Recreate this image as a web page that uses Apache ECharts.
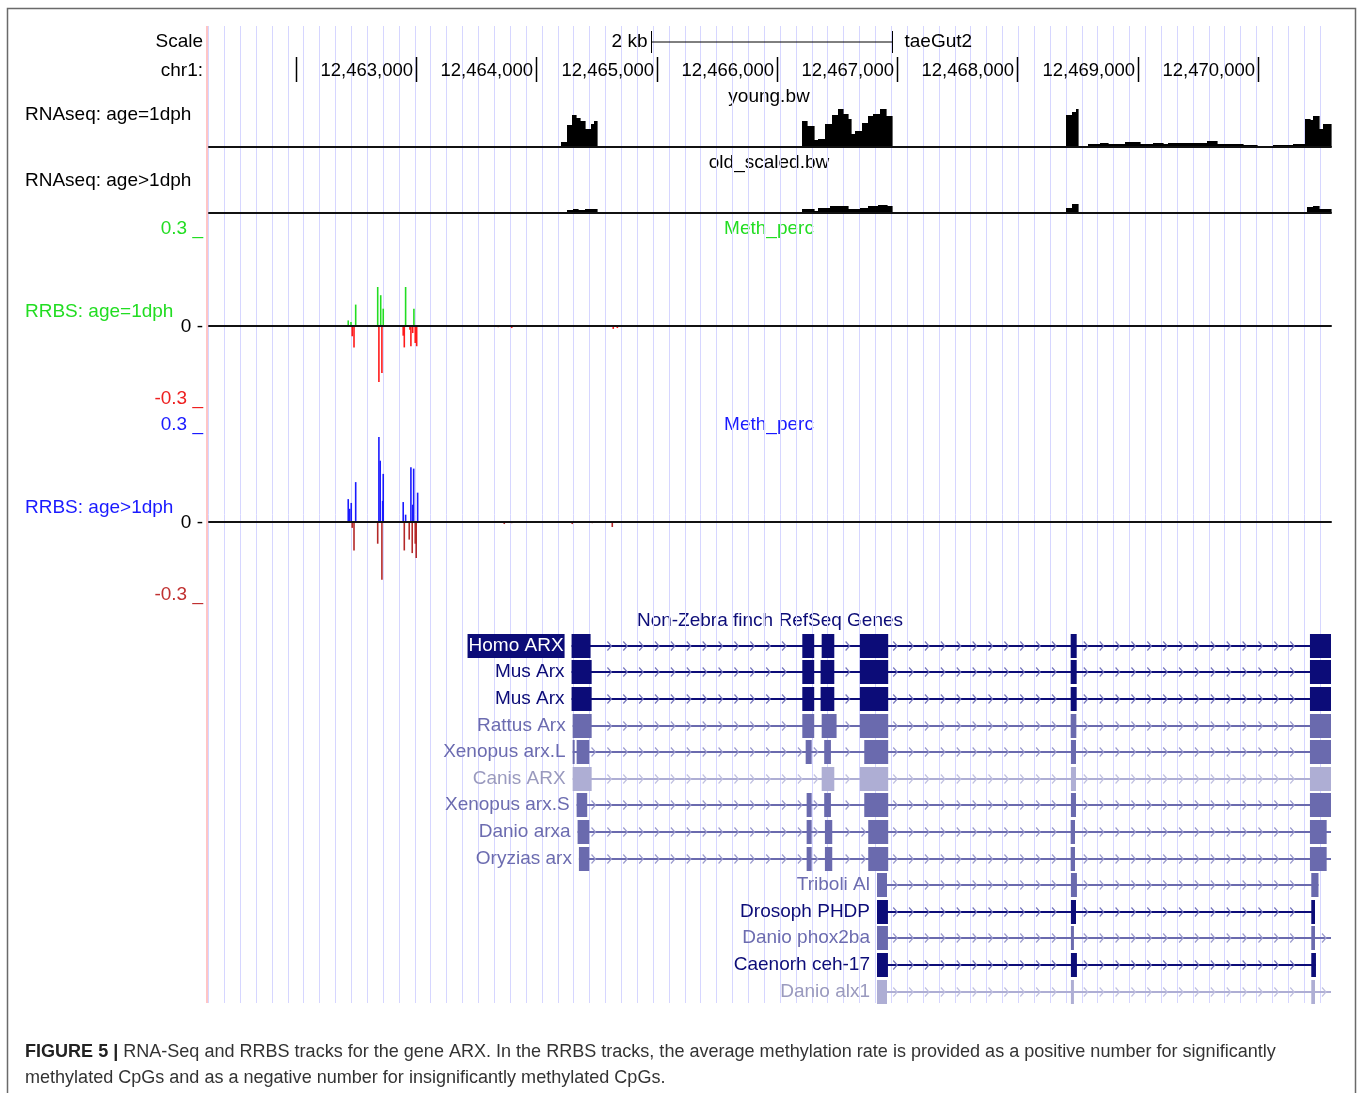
<!DOCTYPE html>
<html><head><meta charset="utf-8">
<script src="https://cdn.jsdelivr.net/npm/echarts@6/dist/echarts.min.js"></script>
<style>html,body{margin:0;padding:0;background:#fff;}#c{width:1358px;height:1093px;}</style>
</head><body><div id="c"></div>
<script>
// ---------------- DATA ----------------
const genomeMin = 12461280, genomeMax = 12470607;
const rulerTicks = [12462000,12463000,12464000,12465000,12466000,12467000,12468000,12469000,12470000];
const rulerLabels = ['','12,463,000','12,464,000','12,465,000','12,466,000','12,467,000','12,468,000','12,469,000','12,470,000'];
const scaleBarRange = [12464955, 12466955];
const scaleBarLabel = '2 kb';
const assemblyName = 'taeGut2';
const chromName = 'chr1:';

// RNAseq coverage segments [start, end, value]
const youngCoverage = [
 [12464205,12464255,5],[12464255,12464297,22],[12464297,12464330,32],[12464330,12464363,29],
 [12464363,12464405,26],[12464405,12464455,18],[12464455,12464480,23],[12464480,12464505,26],
 [12466206,12466248,26],[12466248,12466309,21],[12466309,12466344,7],[12466344,12466400,8],
 [12466400,12466456,23],[12466456,12466506,32],[12466506,12466552,38],[12466552,12466594,33],
 [12466594,12466614,28],[12466614,12466650,13],[12466650,12466705,16],[12466705,12466760,24],
 [12466760,12466802,31],[12466802,12466857,33],[12466857,12466905,38],[12466905,12466960,31],
 [12467505,12467520,1],
 [12468404,12468456,32],[12468456,12468487,35],[12468487,12468506,38],[12468506,12468589,1],
 [12468589,12468686,3],[12468686,12468755,4],[12468755,12468894,3],[12468894,12469019,5],
 [12469019,12469130,3],[12469130,12469213,4],[12469213,12469254,3],[12469254,12469518,4],
 [12469518,12469573,4],[12469573,12469657,6],[12469657,12469753,3],[12469753,12469878,3],
 [12469878,12469989,2],[12470044,12470127,1],[12470127,12470293,2],[12470293,12470391,3],
 [12470391,12470432,28],[12470432,12470460,27],[12470460,12470510,31],[12470510,12470543,18],
 [12470543,12470607,23]
];
const oldCoverage = [
 [12464253,12464308,3],[12464308,12464349,4],[12464349,12464405,3],[12464405,12464507,4],
 [12466206,12466309,4],[12466309,12466344,2],[12466344,12466442,5],[12466442,12466511,7],
 [12466511,12466594,7],[12466594,12466691,4],[12466691,12466760,5],[12466760,12466843,7],
 [12466843,12466913,8],[12466913,12466960,7],
 [12468404,12468456,5],[12468456,12468506,9],
 [12470405,12470455,6],[12470455,12470510,7],[12470510,12470543,4],[12470543,12470607,4]
];
const coverageMax = 40;

// RRBS methylation [position, value]
const rrbsYoungSig = [[12462437,0.019],[12462460,0.014],[12462499,0.073],[12462682,0.133],[12462707,0.105],[12462728,0.059],[12462914,0.133],[12462983,0.059]];
const rrbsYoungInsig = [[12462470,-0.035],[12462485,-0.073],[12462692,-0.191],[12462717,-0.16],[12462894,-0.033],[12462903,-0.073],[12462950,-0.013],[12462958,-0.069],[12462973,-0.024],[12462994,-0.058],[12463006,-0.069],[12463684,-0.004],[12463796,-0.007],[12464640,-0.01],[12464674,-0.007]];
const rrbsOldSig = [[12462437,0.078],[12462449,0.045],[12462462,0.065],[12462499,0.136],[12462692,0.29],[12462703,0.209],[12462728,0.164],[12462723,0.072],[12462894,0.068],[12462914,0.025],[12462958,0.187],[12462981,0.182],[12462973,0.059],[12463014,0.1]];
const rrbsOldInsig = [[12462470,-0.02],[12462485,-0.097],[12462682,-0.074],[12462717,-0.197],[12462903,-0.097],[12462944,-0.06],[12462969,-0.106],[12462994,-0.074],[12463002,-0.123],[12463734,-0.007],[12463796,-0.004],[12464299,-0.007],[12464466,-0.004],[12464632,-0.017]];
const methRange = [-0.3, 0.3];
const methTickLabels = ['0.3 _', '0 -', '-0.3 _'];

// Gene models
const geneNames = ['Homo ARX','Mus Arx','Mus Arx','Rattus Arx','Xenopus arx.L','Canis ARX','Xenopus arx.S','Danio arxa','Oryzias arx','Triboli Al','Drosoph PHDP','Danio phox2ba','Caenorh ceh-17','Danio alx1'];
const geneShade = [0,0,0,1,1,2,1,1,1,1,0,1,0,2];
const geneStarts = [12464294,12464294,12464294,12464303,12464303,12464303,12464336,12464344,12464355,12466833,12466833,12466833,12466833,12466833];
const geneEnds = [12470700,12470700,12470700,12470700,12470700,12470700,12470700,12470700,12470700,12470503,12470474,12470700,12470482,12470700];
const geneExons = [
 [[12464294,12464452],[12466212,12466311],[12466373,12466478],[12466691,12466926],[12468443,12468493],[12470432,12470700]],
 [[12464294,12464461],[12466212,12466311],[12466364,12466478],[12466691,12466926],[12468443,12468493],[12470432,12470700]],
 [[12464294,12464461],[12466212,12466311],[12466364,12466478],[12466691,12466926],[12468443,12468493],[12470432,12470700]],
 [[12464303,12464461],[12466212,12466311],[12466373,12466497],[12466691,12466926],[12468443,12468490],[12470432,12470700]],
 [[12464303,12464314],[12464336,12464441],[12466240,12466290],[12466394,12466450],[12466727,12466926],[12468445,12468487],[12470432,12470700]],
 [[12464303,12464461],[12466373,12466478],[12466691,12466926],[12468445,12468487],[12470432,12470700]],
 [[12464336,12464424],[12466248,12466290],[12466394,12466450],[12466727,12466926],[12468445,12468487],[12470432,12470700]],
 [[12464344,12464441],[12466248,12466290],[12466400,12466461],[12466760,12466926],[12468443,12468479],[12470432,12470571]],
 [[12464355,12464441],[12466248,12466290],[12466400,12466461],[12466760,12466926],[12468443,12468479],[12470432,12470571]],
 [[12466833,12466916],[12468445,12468495],[12470443,12470503]],
 [[12466833,12466924],[12468445,12468487],[12470443,12470474]],
 [[12466833,12466924],[12468445,12468470],[12470443,12470474]],
 [[12466833,12466924],[12468445,12468495],[12470443,12470482]],
 [[12466833,12466916],[12468445,12468470],[12470443,12470474]]
];
const highlightedGene = 0;

const trackTexts = {
  scale: 'Scale', young: 'RNAseq: age=1dph', old: 'RNAseq: age>1dph',
  youngFile: 'young.bw', oldFile: 'old_scaled.bw', meth: 'Meth_perc',
  rrbsYoung: 'RRBS: age=1dph', rrbsOld: 'RRBS: age>1dph', genes: 'Non-Zebra finch RefSeq Genes'
};
const captionBold = 'FIGURE 5 |';
const captionLine1 = ' RNA-Seq and RRBS tracks for the gene ARX. In the RRBS tracks, the average methylation rate is provided as a positive number for significantly';
const captionLine2 = 'methylated CpGs and as a negative number for insignificantly methylated CpGs.';

// ---------------- LAYOUT / STYLE ----------------
const FF = '"Liberation Sans", Arial, Helvetica, sans-serif';
const F19 = '19px ' + FF;
const X0 = 209, X1 = 1331, TW = X1 - X0;
const GUIDE_X0 = 208.4, GUIDE_STEP = 15.88, GUIDE_N = 70;
const NAVY = '#0c0c78', MED = '#6a6aae', LIGHT = '#aeaed4';
const SHADES = [NAVY, MED, LIGHT];
const LABEL_SHADES = [NAVY, '#6c6cb0', '#9a9abe'];
const CHEV = ['#7676bc', '#9a9acd', '#c0c0e0'];
const GREEN = '#22dd22', RED = '#ff1a1a', BLUE = '#1a1aff', DARKRED = '#b42828';
const ROW0 = 645.7, ROWH = 26.6, EXH = 24;

const chart = echarts.init(document.getElementById('c'), null, {renderer: 'canvas'});

function gx(top, height){ return {left: X0, top: top, width: TW, height: height, containLabel: false, outerBoundsMode: 'none'}; }
const grids = [
  {left: GUIDE_X0, top: 26, width: GUIDE_STEP * GUIDE_N, height: 977, containLabel: false, outerBoundsMode: 'none'},
  gx(25, 60),      // 1 ruler + scale
  gx(147 - 40, 40),// 2 young
  gx(213 - 40, 40),// 3 old
  gx(238, 176),    // 4 rrbs young
  gx(434, 176),    // 5 rrbs old
  gx(ROW0 - ROWH/2, ROWH * geneNames.length) // 6 genes
];
function genomeAxis(i, baseline){
  return {type: 'value', gridIndex: i, min: genomeMin, max: genomeMax, show: true, z: 6,
    axisLine: {show: !!baseline, onZero: true, lineStyle: {color: '#111', width: 2}},
    axisTick: {show: false}, axisLabel: {show: false}, splitLine: {show: false}};
}
const xAxes = [
  {type: 'value', gridIndex: 0, min: 0, max: GUIDE_N, interval: 1, show: true, z: 0,
   axisLine: {show: false}, axisTick: {show: false}, axisLabel: {show: false},
   splitLine: {show: true, lineStyle: {color: '#d6d6ff', width: 1}}},
  genomeAxis(1, false), genomeAxis(2, true), genomeAxis(3, true),
  genomeAxis(4, true), genomeAxis(5, true), genomeAxis(6, false)
];
function hiddenY(i, min, max, inverse){ return {type: 'value', gridIndex: i, min: min, max: max, inverse: !!inverse, show: false}; }
const yAxes = [
  hiddenY(0, 0, 1), hiddenY(1, 0, 1), hiddenY(2, 0, coverageMax), hiddenY(3, 0, coverageMax),
  hiddenY(4, methRange[0], methRange[1]), hiddenY(5, methRange[0], methRange[1]),
  hiddenY(6, -0.5, geneNames.length - 0.5, true)
];

const clampX = x => Math.max(X0, Math.min(X1, x));

function coverageSeries(idx, data){
  return {type: 'custom', xAxisIndex: idx, yAxisIndex: idx, silent: true, animation: false, z: 5,
    encode: {x: [0, 1], y: 2}, data: data,
    renderItem: function(params, api){
      const p0 = api.coord([api.value(0), 0]);
      const p1 = api.coord([api.value(1), api.value(2)]);
      const xa = Math.round(p0[0]), xb = Math.max(Math.round(p1[0]), xa + 1);
      const yt = Math.round(p1[1]), yb = Math.round(p0[1]);
      return {type: 'rect', shape: {x: xa, y: yt, width: xb - xa + 0.6, height: Math.max(yb - yt, 1)}, style: {fill: '#000'}};
    }};
}
function methSeries(idx, data, color){
  return {type: 'custom', xAxisIndex: idx, yAxisIndex: idx, silent: true, animation: false,
    encode: {x: 0, y: 1}, data: data, z: 5,
    renderItem: function(params, api){
      const p0 = api.coord([api.value(0), 0]);
      const p1 = api.coord([api.value(0), api.value(1)]);
      const y = Math.min(p0[1], p1[1]), h = Math.max(Math.abs(p1[1] - p0[1]), 1);
      return {type: 'rect', shape: {x: p0[0] - 0.75, y: y, width: 1.6, height: h}, style: {fill: color}};
    }};
}

const rulerSeries = {
  type: 'custom', xAxisIndex: 1, yAxisIndex: 1, silent: true, animation: false, z: 5,
  encode: {x: 0}, data: rulerTicks.map((p, i) => [p, i]),
  renderItem: function(params, api){
    const x = Math.round(api.coord([api.value(0), 0])[0]) + 0.5;
    const lab = rulerLabels[api.value(1)];
    return {type: 'group', children: [
      {type: 'line', shape: {x1: x, y1: 57, x2: x, y2: 82}, style: {stroke: '#000', lineWidth: 1.5}},
      {type: 'text', x: x - 3.5, y: 71, style: {text: lab, font: '18.5px ' + FF, fill: '#000', align: 'right', verticalAlign: 'middle'}}
    ]};
  }
};
const scaleSeries = {
  type: 'custom', xAxisIndex: 1, yAxisIndex: 1, silent: true, animation: false, z: 5,
  encode: {x: [0, 1]}, data: [scaleBarRange],
  renderItem: function(params, api){
    const a = Math.round(api.coord([api.value(0), 0])[0]) + 0.5;
    const b = Math.round(api.coord([api.value(1), 0])[0]) + 0.5;
    return {type: 'group', children: [
      {type: 'line', shape: {x1: a, y1: 42, x2: b, y2: 42}, style: {stroke: '#000', lineWidth: 1}},
      {type: 'line', shape: {x1: a, y1: 31, x2: a, y2: 53}, style: {stroke: '#000', lineWidth: 1}},
      {type: 'line', shape: {x1: b, y1: 31, x2: b, y2: 53}, style: {stroke: '#000', lineWidth: 1}},
      {type: 'text', x: a - 4, y: 42, style: {text: scaleBarLabel, font: F19, fill: '#000', align: 'right', verticalAlign: 'middle'}},
      {type: 'text', x: b + 12, y: 42, style: {text: assemblyName, font: F19, fill: '#000', align: 'left', verticalAlign: 'middle'}}
    ]};
  }
};

const geneSeries = {
  type: 'custom', xAxisIndex: 6, yAxisIndex: 6, silent: true, animation: false, clip: false, z: 5,
  encode: {x: [0, 1], y: 2}, data: geneStarts.map((s, i) => [s, geneEnds[i], i]),
  renderItem: function(params, api){
    const i = api.value(2);
    const y = Math.round(api.coord([genomeMin, i])[1]);
    const xs = clampX(api.coord([api.value(0), i])[0]);
    const xe = clampX(api.coord([api.value(1), i])[0]);
    const shade = geneShade[i], col = SHADES[shade];
    const ch = [];
    ch.push({type: 'line', shape: {x1: xs, y1: y, x2: xe, y2: y}, style: {stroke: col, lineWidth: 2}});
    const ex = geneExons[i].map(e => [clampX(api.coord([e[0], i])[0]), clampX(api.coord([e[1], i])[0])]);
    for (let k = 0; k <= GUIDE_N + 1; k++) {
      const cx = GUIDE_X0 + k * GUIDE_STEP + 6;
      if (cx - 4 < xs + 2 || cx > xe - 1) continue;
      if (ex.some(e => cx + 2 > e[0] && cx - 6 < e[1])) continue;
      ch.push({type: 'polyline', shape: {points: [[cx - 4, y - 4.5], [cx, y], [cx - 4, y + 4.5]]}, style: {stroke: CHEV[shade], lineWidth: 1.2, fill: 'none'}});
    }
    ex.forEach(e => ch.push({type: 'rect', shape: {x: e[0], y: y - EXH/2, width: Math.max(e[1] - e[0], 2), height: EXH}, style: {fill: col}}));
    const hl = i === highlightedGene;
    ch.push({type: 'text', x: xs - 7, y: y, style: {text: geneNames[i], font: F19, fill: hl ? '#fff' : LABEL_SHADES[shade], align: 'right', verticalAlign: 'middle',
      backgroundColor: hl ? NAVY : null, padding: hl ? [3, 1, 2, 1] : 0}});
    return {type: 'group', children: ch};
  }
};

// caption font fitting
const ctx = document.createElement('canvas').getContext('2d');
function tw(t, f){ ctx.font = f; return ctx.measureText(t).width; }
let capSize = 17;
const capTarget = 1277 - 25;
const w17 = tw(captionBold, 'bold 17px ' + FF) + tw(captionLine1, '17px ' + FF);
capSize = Math.max(13, Math.min(21, 17 * capTarget / w17));
const capFont = capSize.toFixed(2) + 'px ' + FF;
const capBoldFont = 'bold ' + capFont;
const boldW = tw(captionBold, capBoldFont);

function txt(x, y, text, color, align, font){
  return {type: 'text', x: x, y: y, silent: true, style: {text: text, font: font || F19, fill: color, align: align || 'left', verticalAlign: 'middle'}};
}

const graphics = [
  {type: 'rect', silent: true, shape: {x: 7.5, y: 8.5, width: 1348, height: 1100}, style: {fill: 'none', stroke: '#6a6a6a', lineWidth: 1.5}, z: -10},
  {type: 'line', silent: true, shape: {x1: 207, y1: 26, x2: 207, y2: 1003}, style: {stroke: '#ffb2b2', lineWidth: 1.5}, z: 10},
  txt(203, 42, trackTexts.scale, '#000', 'right'),
  txt(203, 71, chromName, '#000', 'right'),
  txt(25, 115, trackTexts.young, '#000'),
  txt(769, 97, trackTexts.youngFile, '#000', 'center'),
  txt(769, 163, trackTexts.oldFile, '#000', 'center'),
  txt(25, 181, trackTexts.old, '#000'),
  txt(203, 229, methTickLabels[0], GREEN, 'right'),
  txt(769, 229, trackTexts.meth, GREEN, 'center'),
  txt(25, 312, trackTexts.rrbsYoung, GREEN),
  txt(203, 327, methTickLabels[1], '#000', 'right'),
  txt(203, 399, methTickLabels[2], '#ee2020', 'right'),
  txt(203, 425, methTickLabels[0], BLUE, 'right'),
  txt(769, 425, trackTexts.meth, BLUE, 'center'),
  txt(25, 508, trackTexts.rrbsOld, BLUE),
  txt(203, 523, methTickLabels[1], '#000', 'right'),
  txt(203, 595, methTickLabels[2], '#c03030', 'right'),
  txt(770, 621, trackTexts.genes, NAVY, 'center'),
  txt(25, 1052, captionBold, '#222', 'left', capBoldFont),
  txt(25 + boldW, 1052, captionLine1, '#333', 'left', capFont),
  txt(25, 1078, captionLine2, '#333', 'left', capFont)
];

chart.setOption({
  animation: false,
  backgroundColor: '#fff',
  grid: grids, xAxis: xAxes, yAxis: yAxes,
  graphic: {elements: graphics},
  series: [
    rulerSeries, scaleSeries,
    coverageSeries(2, youngCoverage), coverageSeries(3, oldCoverage),
    methSeries(4, rrbsYoungSig, GREEN), methSeries(4, rrbsYoungInsig, RED),
    methSeries(5, rrbsOldSig, BLUE), methSeries(5, rrbsOldInsig, DARKRED),
    geneSeries
  ]
});
</script></body></html>
